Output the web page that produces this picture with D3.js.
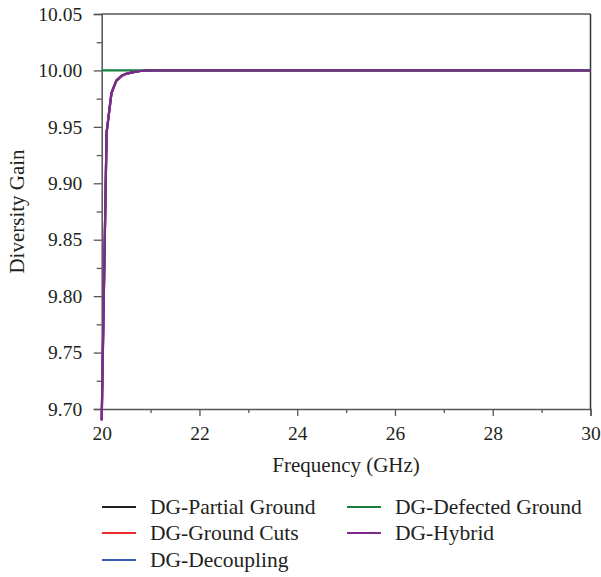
<!DOCTYPE html>
<html><head><meta charset="utf-8">
<script src="https://cdn.jsdelivr.net/npm/d3@7"></script>
<style>body{margin:0;background:#fff}svg{display:block}</style>
</head><body><svg id="c" width="601" height="577"></svg>
<script>
const freq = [20.0,20.1,20.2,20.3,20.4,20.5,20.6,20.7,20.8,20.9,21,22,23,24,25,26,27,28,29,30];
const dgCurve = [9.69,9.945,9.980,9.991,9.995,9.997,9.998,9.999,9.9995,9.9998,10.0,10.0,10.0,10.0,10.0,10.0,10.0,10.0,10.0,10.0];
const dgFlat = [10.0,10.0,10.0,10.0,10.0,10.0,10.0,10.0,10.0,10.0,10.0,10.0,10.0,10.0,10.0,10.0,10.0,10.0,10.0,10.0];
const seriesNames = ["DG-Partial Ground","DG-Ground Cuts","DG-Decoupling","DG-Defected Ground","DG-Hybrid"];
const seriesValues = [dgCurve, dgCurve, dgCurve, dgFlat, dgCurve];
const seriesColors = ["#231f20","#ec2a2f","#3a5cb8","#16813f","#7d2a8c"];
const xTicks = [20,22,24,26,28,30];
const xMinor = [21,23,25,27,29];
const yTicks = [9.70,9.75,9.80,9.85,9.90,9.95,10.00,10.05];
const yMinor = [9.725,9.775,9.825,9.875,9.925,9.975,10.025];

const svg = d3.select("#c");
const L=101.7, R=590.5, T=14, B=409;
const x = d3.scaleLinear().domain([20,30]).range([L,R]);
const y = d3.scaleLinear().domain([9.70,10.05]).range([B,T]);
const font = "'Liberation Serif', 'DejaVu Serif', serif";
const axisCol = "#555";
const txt = "#231f20";

// frame top & right
svg.append("line").attr("x1",L).attr("x2",R).attr("y1",T).attr("y2",T).attr("stroke",axisCol).attr("stroke-width",1.5);
svg.append("line").attr("x1",R).attr("x2",R).attr("y1",T).attr("y2",B).attr("stroke","#333").attr("stroke-width",1.5);

// x axis
const gx = svg.append("g").attr("transform",`translate(0,${B})`)
  .call(d3.axisBottom(x).tickValues(xTicks).tickFormat(d3.format("d")).tickSize(7).tickPadding(10));
const gxm = svg.append("g").attr("transform",`translate(0,${B})`)
  .call(d3.axisBottom(x).tickValues(xMinor).tickFormat("").tickSize(4));
// y axis
const gy = svg.append("g").attr("transform",`translate(${L},0)`)
  .call(d3.axisLeft(y).tickValues(yTicks).tickFormat(d3.format(".2f")).tickSize(8).tickPadding(11.5));
const gym = svg.append("g").attr("transform",`translate(${L},0)`)
  .call(d3.axisLeft(y).tickValues(yMinor).tickFormat("").tickSize(5));
[gx,gxm,gy,gym].forEach(g=>{
  g.selectAll(".domain").attr("stroke",axisCol).attr("stroke-width",1.5);
  g.selectAll(".tick line").attr("stroke",axisCol).attr("stroke-width",1.3);
  g.selectAll("text").attr("font-family",font).attr("font-size",19.5).attr("fill",txt);
});
gxm.select(".domain").remove(); gym.select(".domain").remove();

// lines
const line = d3.line().x((d,i)=>x(freq[i])).y(d=>y(d));
seriesValues.forEach((vals,k)=>{
  svg.append("path").datum(vals).attr("d",line).attr("fill","none")
    .attr("stroke",seriesColors[k]).attr("stroke-width",2.2).attr("stroke-linejoin","round");
});

// axis titles
svg.append("text").attr("x",(L+R)/2).attr("y",472).attr("text-anchor","middle")
  .attr("font-family",font).attr("font-size",21).attr("fill",txt).text("Frequency (GHz)");
svg.append("text").attr("transform",`translate(24,${(T+B)/2}) rotate(-90)`).attr("text-anchor","middle")
  .attr("font-family",font).attr("font-size",21).attr("fill",txt).text("Diversity Gain");

// legend
const legPos = [[102,507],[102,533],[102,560],[347,507],[347,533]];
seriesNames.forEach((n,k)=>{
  const [lx,ly]=legPos[k];
  svg.append("line").attr("x1",lx).attr("x2",lx+34).attr("y1",ly).attr("y2",ly)
    .attr("stroke",seriesColors[k]).attr("stroke-width",2);
  svg.append("text").attr("x",lx+48).attr("y",ly+7).attr("font-family",font).attr("font-size",21.5)
    .attr("fill",txt).text(n);
});
</script></body></html>
